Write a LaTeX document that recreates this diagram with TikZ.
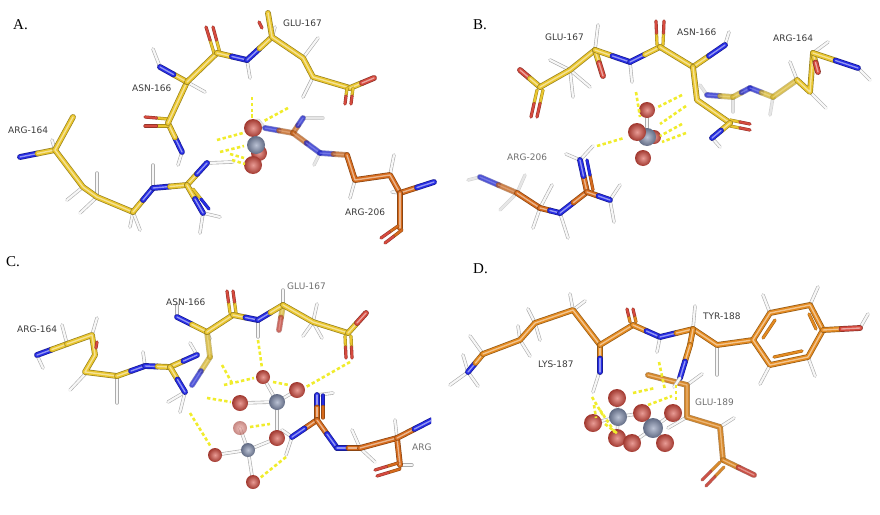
\documentclass[tikz,border=0pt]{standalone}
\usepackage{fontspec}
\newfontfamily\LblFam{DejaVu Sans}
\newfontfamily\PnlFam{Liberation Serif}
\usepackage{tikz}
\usetikzlibrary{
  calc
  , positioning
}
\definecolor{cY}{RGB}{234,198,46}
\definecolor{cN}{RGB}{38,44,228}
\definecolor{cO}{RGB}{214,74,62}
\definecolor{cG}{RGB}{130,143,176}
\definecolor{cOr}{RGB}{214,106,28}
\definecolor{cD}{RGB}{228,138,32}
\definecolor{hbY}{RGB}{240,236,44}
\definecolor{LblDark}{RGB}{58,58,58}
\definecolor{LblLight}{RGB}{112,112,112}
\tikzset{
  stk/.style={line width=5.8pt, line cap=round, line join=round, draw=#1!65!black,
    postaction={draw=#1, line width=4.4pt},
    postaction={draw=#1!50!white, line width=1.4pt}},
  dstk/.style={line width=3.2pt, line cap=round, draw=#1!70!black,
    postaction={draw=#1, line width=2.1pt}},
  hyd/.style={line width=3.4pt, line cap=round, draw=gray!65,
    postaction={draw=white!94!gray, line width=2.2pt}},
  hb/.style={draw=hbY, line width=2.6pt, dash pattern=on 3.4pt off 2.4pt},
  lbl/.style={font=\LblFam\fontsize{9}{10}\selectfont, text=LblDark, anchor=west, inner sep=0pt},
  pnl/.style={font=\PnlFam\fontsize{15}{16}\selectfont, anchor=west, inner sep=0pt},
}
% half coloured bond
\newcommand\bnd[4]{\draw[stk=#1] (#3) -- ($(#3)!.5!(#4)$); \draw[stk=#2] ($(#3)!.5!(#4)$) -- (#4);}
\newcommand\dbnd[4]{\draw[dstk=#1] (#3) -- ($(#3)!.5!(#4)$); \draw[dstk=#2] ($(#3)!.5!(#4)$) -- (#4);}
\newcommand\atm[3]{\shade[inner color=#1!55!white, outer color=#1!75!black] (#2) circle (#3);}
\begin{document}
\begin{tikzpicture}[x=1pt, y=-1pt]
  \useasboundingbox (0,0) rectangle (880,514);

  % ---------------- A ----------------
  \node[pnl] (PnlA) at (13,25) {A.};
  % arg-164
  \foreach \a/\b/\c/\d in {55/150/52/140, 83/187/67/200, 97/197/80/213, 97/197/97/173,
    133/212/130/227, 133/212/140/230, 153/188/153/165, 203/213/200/233, 203/213/220/217, 207/163/233/162}
    {\draw[hyd] (\a,\b) -- (\c,\d);}
  \bnd{cN}{cY}{20,157}{55,150}
  \draw[stk=cY] (73,117) -- (55,150) -- (83,187) -- (97,197) -- (133,212);
  \bnd{cY}{cN}{133,212}{153,188}
  \bnd{cN}{cY}{153,188}{187,185}
  \bnd{cY}{cN}{187,185}{207,163}
  \bnd{cY}{cN}{187,185}{203,213}
  \dbnd{cY}{cN}{193,189}{209,209}
  % asn-166 / glu-167
  \foreach \a/\b/\c/\d in {182/152/178/165, 160/67/153/49, 247/60/250/78, 187/82/205/92,
    303/58/318/38, 313/77/303/97, 272/37/275/27}
    {\draw[hyd] (\a,\b) -- (\c,\d);}
  \bnd{cN}{cY}{182,152}{168,123}
  \dbnd{cY}{cO}{168,119}{145,117}
  \dbnd{cY}{cO}{168,126}{145,126}
  \draw[stk=cY] (168,123) -- (187,82);
  \bnd{cY}{cN}{187,82}{160,67}
  \draw[stk=cY] (187,82) -- (217,53);
  \dbnd{cY}{cO}{214,53}{206,27}
  \dbnd{cY}{cO}{220,53}{213,27}
  \bnd{cY}{cN}{217,53}{247,60}
  \bnd{cN}{cY}{247,60}{272,37}
  \draw[dstk=cO] (259,22) -- (262,28);
  \draw[stk=cY] (268,13) -- (272,37) -- (303,58) -- (313,77) -- (350,88);
  \bnd{cY}{cO}{350,88}{374,78}
  \dbnd{cY}{cO}{347,88}{345,104}
  \dbnd{cY}{cO}{353,88}{351,104}
  % arg-206
  \begin{scope}[opacity=.55]
    \foreach \a/\b/\c/\d in {265/128/258/120, 303/118/323/118, 320/153/314/165}
      {\draw[hyd] (\a,\b) -- (\c,\d);}
    \bnd{cN}{cOr}{265,128}{293,133}
    \bnd{cOr}{cN}{293,133}{303,118}
    \bnd{cOr}{cN}{293,133}{320,153}
    \bnd{cN}{cOr}{320,153}{347,155}
  \end{scope}
  \foreach \a/\b/\c/\d in {355/180/350/198, 390/175/394/155, 400/193/392/192}
    {\draw[hyd] (\a,\b) -- (\c,\d);}
  \draw[stk=cOr] (347,155) -- (355,180) -- (390,175) -- (400,193);
  \bnd{cOr}{cN}{400,193}{434,182}
  \draw[stk=cOr] (400,193) -- (400,228);
  \dbnd{cOr}{cO}{398,226}{381,238}
  \dbnd{cOr}{cO}{402,230}{385,243}
  % ion
  \atm{cO}{259,153}{8}
  \atm{cO}{253,128}{9}
  \atm{cG}{256,145}{9}
  \atm{cO}{253,165}{9}
  \foreach \a/\b/\c/\d in {252/97/252/120, 288/108/264/121, 217/140/243/133,
    220/152/244/146, 232/160/245/164, 230/154/244/158}
    {\draw[hb] (\a,\b) -- (\c,\d);}
  \node[lbl] (GluA) at (283,23) {GLU-167};
  \node[lbl] (AsnA) at (132,88) {ASN-166};
  \node[lbl] (ArgA) at (8,130) {ARG-164};
  \node[lbl] (ArgXA) at (345,212) {ARG-206};

  % ---------------- B ----------------
  \node[pnl] (PnlB) at (473,25) {B.};
  % glu-167 / asn-166
  \foreach \a/\b/\c/\d in {570/70/550/60, 570/70/573/97, 570/70/590/87, 595/50/598/25,
    630/62/632/82, 725/45/729/32, 712/138/720/147}
    {\draw[hyd] (\a,\b) -- (\c,\d);}
  \bnd{cO}{cY}{520,70}{540,87}
  \dbnd{cY}{cO}{537,90}{531,117}
  \dbnd{cY}{cO}{543,90}{537,117}
  \draw[stk=cY] (540,87) -- (570,70) -- (595,50);
  \bnd{cY}{cO}{595,50}{603,76}
  \bnd{cY}{cN}{595,50}{630,62}
  \bnd{cN}{cY}{630,62}{660,47}
  \dbnd{cY}{cO}{657,45}{656,21}
  \dbnd{cY}{cO}{663,45}{664,21}
  \draw[stk=cY] (660,47) -- (693,67);
  \bnd{cY}{cN}{693,67}{725,45}
  % arg-164
  \begin{scope}[opacity=.55]
    \foreach \a/\b/\c/\d in {707/95/700/85, 733/97/733/112, 773/97/770/115}
      {\draw[hyd] (\a,\b) -- (\c,\d);}
    \bnd{cN}{cY}{707,95}{733,97}
    \bnd{cY}{cN}{733,97}{750,88}
    \bnd{cN}{cY}{750,88}{773,97}
    \draw[stk=cY] (773,97) -- (797,80);
  \end{scope}
  \foreach \a/\b/\c/\d in {797/80/790/62, 810/92/826/108, 813/53/828/42, 858/68/870/80}
    {\draw[hyd] (\a,\b) -- (\c,\d);}
  \draw[stk=cY] (797,80) -- (810,92) -- (813,53);
  \bnd{cY}{cO}{813,53}{818,72}
  \bnd{cY}{cN}{813,53}{858,68}
  \draw[stk=cY] (693,67) -- (697,100) -- (730,123);
  \dbnd{cY}{cO}{730,120}{750,124}
  \dbnd{cY}{cO}{730,126}{750,130}
  \bnd{cY}{cN}{730,123}{712,138}
  % arg-206
  \begin{scope}[opacity=.55]
    \foreach \a/\b/\c/\d in {480/177/468/180, 517/193/500/210, 517/193/525/175}
      {\draw[hyd] (\a,\b) -- (\c,\d);}
    \bnd{cN}{cOr}{480,177}{517,193}
  \end{scope}
  \foreach \a/\b/\c/\d in {540/208/533/228, 540/208/552/185, 580/160/566/154, 580/160/593/146,
    610/200/614/222, 610/200/620/185, 560/213/568/238}
    {\draw[hyd] (\a,\b) -- (\c,\d);}
  \draw[stk=cOr] (517,193) -- (540,208);
  \bnd{cOr}{cN}{540,208}{560,213}
  \bnd{cN}{cOr}{560,213}{587,192}
  \bnd{cOr}{cN}{587,192}{580,160}
  \dbnd{cOr}{cN}{593,190}{587,160}
  \bnd{cOr}{cN}{587,192}{610,200}
  % ion
  \draw[hyd] (647,137) -- (647,110);
  \atm{cO}{654,137}{7}
  \atm{cO}{647,110}{8}
  \atm{cG}{647,137}{9}
  \atm{cO}{637,132}{9}
  \atm{cO}{643,158}{8}
  \foreach \a/\b/\c/\d in {597/146/624/138, 636/92/640/117, 682/95/656/108, 686/106/660/124,
    682/124/660/136, 686/133/662/142}
    {\draw[hb] (\a,\b) -- (\c,\d);}
  \node[lbl] (GluB) at (545,37) {GLU-167};
  \node[lbl] (AsnB) at (677,32) {ASN-166};
  \node[lbl] (ArgB) at (773,38) {ARG-164};
  \node[lbl, text=LblLight] (ArgXB) at (507,157) {ARG-206};

  % ---------------- C ----------------
  \node[pnl] (PnlC) at (6,262) {C.};
  \begin{scope}
    \clip (0,257) rectangle (431,514);
    % arg-164
    \foreach \a/\b/\c/\d in {37/355/43/368, 67/344/62/325, 92/335/97/318, 87/372/70/390,
      117/376/117/403, 145/366/143/352, 197/355/190/343, 185/392/168/402, 185/392/180/412}
      {\draw[hyd] (\a,\b) -- (\c,\d);}
    \bnd{cN}{cY}{37,355}{67,344}
    \draw[stk=cY] (67,344) -- (92,335) -- (95,355) -- (85,372) -- (117,376);
    \draw[dstk=cO] (96,348) -- (97,342);
    \bnd{cY}{cN}{117,376}{145,366}
    \bnd{cN}{cY}{145,366}{170,367}
    \bnd{cY}{cN}{170,367}{197,355}
    \bnd{cY}{cN}{170,367}{185,392}
    % asn-166 / glu-167
    \foreach \a/\b/\c/\d in {177/317/177/305, 258/320/258/337, 283/305/283/290,
      313/322/317/304, 313/322/303/336, 313/322/322/338, 207/332/210/339}
      {\draw[hyd] (\a,\b) -- (\c,\d);}
    \begin{scope}[opacity=.55]
      \bnd{cY}{cO}{283,305}{279,330}
      \bnd{cY}{cN}{210,357}{192,385}
      \draw[stk=cY] (207,332) -- (210,357);
    \end{scope}
    \bnd{cN}{cY}{177,317}{207,332}
    \draw[stk=cY] (207,332) -- (233,315);
    \dbnd{cY}{cO}{230,313}{227,291}
    \dbnd{cY}{cO}{236,313}{233,291}
    \bnd{cY}{cN}{233,315}{258,320}
    \bnd{cN}{cY}{258,320}{283,305}
    \draw[stk=cY] (283,305) -- (313,322) -- (348,333);
    \bnd{cY}{cO}{348,333}{366,313}
    \dbnd{cY}{cO}{345,336}{346,358}
    \dbnd{cY}{cO}{351,336}{352,358}
    % arg-206
    \foreach \a/\b/\c/\d in {317/395/333/393, 292/437/286/455, 292/437/282/430,
      360/448/352/430, 360/448/375/462, 397/438/395/420, 400/465/412/465}
      {\draw[hyd] (\a,\b) -- (\c,\d);}
    \bnd{cN}{cOr}{317,395}{317,420}
    \dbnd{cN}{cOr}{323,395}{323,418}
    \bnd{cOr}{cN}{317,420}{292,437}
    \bnd{cOr}{cN}{317,420}{337,448}
    \bnd{cN}{cOr}{337,448}{360,448}
    \draw[stk=cOr] (360,448) -- (397,438) -- (400,465);
    \bnd{cOr}{cN}{397,438}{432,420}
    \dbnd{cOr}{cO}{398,463}{375,470}
    \dbnd{cOr}{cO}{400,469}{377,476}
    % ions
    \foreach \a/\b in {263/377, 297/390, 240/403, 277/438}
      {\draw[hyd] (277,402) -- (\a,\b);}
    \foreach \a/\b in {240/428, 215/455, 253/482, 275/439}
      {\draw[hyd] (248,450) -- (\a,\b);}
    \begin{scope}[opacity=.6]
      \atm{cO}{240,428}{7}
    \end{scope}
    \atm{cO}{263,377}{7}
    \atm{cG}{277,402}{8}
    \atm{cO}{297,390}{8}
    \atm{cO}{240,403}{8}
    \atm{cO}{277,438}{8}
    \atm{cG}{248,450}{7}
    \atm{cO}{215,455}{7}
    \atm{cO}{253,482}{7}
    \foreach \a/\b/\c/\d in {258/340/262/368, 350/362/306/387, 224/385/254/378, 207/398/231/402,
      190/413/211/447, 286/457/260/478, 250/427/270/424, 222/365/232/383, 273/382/289/385}
      {\draw[hb] (\a,\b) -- (\c,\d);}
    \node[lbl, text=LblLight] (ArgXC) at (412,447) {ARG};
  \end{scope}
  \node[lbl] (AsnC) at (166,302) {ASN-166};
  \node[lbl, text=LblLight] (GluC) at (287,286) {GLU-167};
  \node[lbl] (ArgC) at (17,329) {ARG-164};

  % ---------------- D ----------------
  \node[pnl] (PnlD) at (473,269) {D.};
  % lys-187
  \foreach \a/\b/\c/\d in {468/372/450/385, 468/372/478/386, 468/372/463/355, 483/354/470/336,
    520/340/518/326, 520/340/530/356, 535/323/528/309, 535/323/540/340,
    573/310/570/294, 573/310/585/301, 600/370/593/392}
    {\draw[hyd] (\a,\b) -- (\c,\d);}
  \bnd{cN}{cD}{468,372}{483,354}
  \draw[stk=cD] (483,354) -- (520,340) -- (535,323) -- (573,310) -- (600,345);
  \bnd{cD}{cN}{600,345}{600,372}
  \draw[stk=cD] (600,345) -- (633,325);
  \dbnd{cD}{cO}{630,322}{627,309}
  \dbnd{cD}{cO}{636,322}{633,309}
  \bnd{cD}{cN}{633,325}{660,337}
  \draw[hyd] (660,337) -- (657,352);
  \bnd{cN}{cD}{660,337}{693,329}
  % tyr-188
  \foreach \a/\b/\c/\d in {693/329/695/306, 717/345/717/375, 770/313/763/295, 810/305/818/287,
    808/357/815/376, 770/365/760/384, 860/328/868/314}
    {\draw[hyd] (\a,\b) -- (\c,\d);}
  \draw[stk=cD] (693,329) -- (717,345) -- (753,340);
  \draw[stk=cD] (753,340) -- (770,313) -- (810,305) -- (823,330) -- (808,357) -- (770,365) -- cycle;
  \draw[dstk=cD] (763,338) -- (775,320);
  \draw[dstk=cD] (809,314) -- (816,329);
  \draw[dstk=cD] (774,357) -- (802,351);
  \bnd{cD}{cO}{823,330}{860,328}
  % glu-189
  \foreach \a/\b/\c/\d in {720/427/734/418, 687/417/668/428, 687/385/702/374}
    {\draw[hyd] (\a,\b) -- (\c,\d);}
  \begin{scope}[opacity=.75]
    \draw[stk=cD] (648,375) -- (687,385) -- (687,417) -- (720,427) -- (723,460);
    \bnd{cD}{cO}{723,460}{754,475}
    \dbnd{cD}{cO}{720,462}{702,480}
    \dbnd{cD}{cO}{724,467}{706,486}
  \end{scope}
  \draw[stk=cD] (693,329) -- (690,345);
  \bnd{cD}{cN}{690,345}{680,378}
  \draw[hyd] (680,378) -- (674,387);
  % ions
  \foreach \a/\b in {617/398, 593/423, 617/438, 642/413}
    {\draw[hyd] (618,417) -- (\a,\b);}
  \foreach \a/\b in {632/443, 665/443, 673/413, 642/413}
    {\draw[hyd] (653,428) -- (\a,\b);}
  \atm{cO}{642,413}{9}
  \atm{cO}{673,413}{9}
  \atm{cO}{617,398}{9}
  \atm{cO}{593,423}{9}
  \atm{cG}{618,417}{9}
  \atm{cG}{653,428}{10}
  \atm{cO}{617,438}{9}
  \atm{cO}{632,443}{9}
  \atm{cO}{665,443}{9}
  \foreach \a/\b/\c/\d in {592/397/604/417, 600/410/616/434, 633/393/655/388, 659/362/665/390,
    676/385/676/402, 648/405/672/396, 605/424/618/434, 594/405/596/418}
    {\draw[hb] (\a,\b) -- (\c,\d);}
  \node[lbl] (TyrD) at (703,316) {TYR-188};
  \node[lbl] (LysD) at (538,364) {LYS-187};
  \node[lbl, text=LblLight] (GluD) at (695,402) {GLU-189};
\end{tikzpicture}
\end{document}
